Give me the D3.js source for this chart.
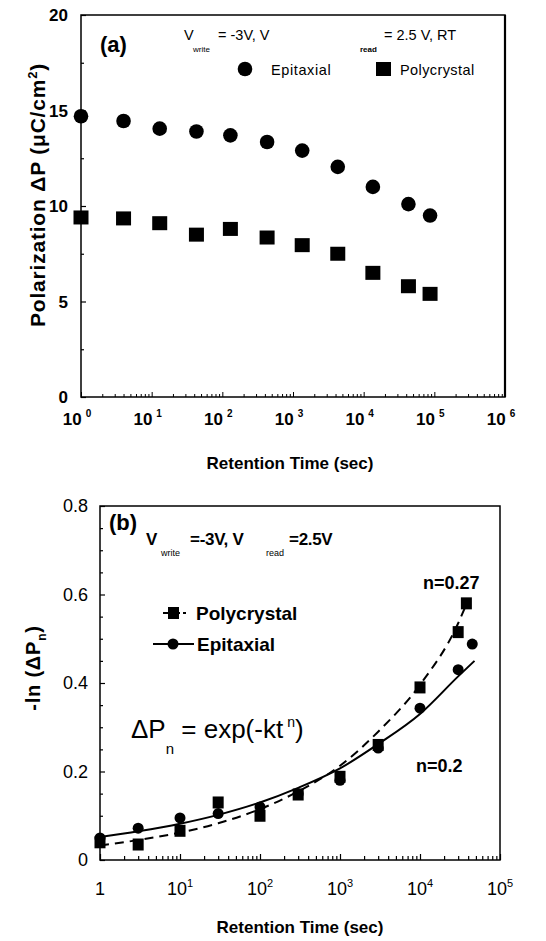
<!DOCTYPE html>
<html><head><meta charset="utf-8">
<script src="https://cdn.jsdelivr.net/npm/d3@7"></script>
<style>body{margin:0;background:#fff}text{font-family:Arial,"Liberation Sans",sans-serif;fill:#000}</style>
</head><body><svg id="c" width="546" height="941"></svg>
<script>
// ---------- Panel (a) data ----------
const timeA = [1, 4, 13, 43, 130, 430, 1350, 4300, 13500, 43000, 87000];
const epiA  = [14.7, 14.45, 14.05, 13.9, 13.7, 13.35, 12.9, 12.05, 11.0, 10.1, 9.5];
const polyA = [9.4, 9.35, 9.1, 8.5, 8.8, 8.35, 7.95, 7.5, 6.5, 5.8, 5.4];
const yTicksA = [0, 5, 10, 15, 20];
const xExpA = [0, 1, 2, 3, 4, 5, 6];

// ---------- Panel (b) data ----------
const polyTimeB = [1, 3, 10, 30, 100, 300, 1000, 3000, 10000, 30000, 38000];
const polyB     = [0.04, 0.035, 0.066, 0.13, 0.10, 0.148, 0.188, 0.26, 0.39, 0.515, 0.58];
const epiTimeB  = [1, 3, 10, 30, 100, 300, 1000, 3000, 10000, 30000, 45000];
const epiB      = [0.05, 0.072, 0.095, 0.105, 0.12, 0.15, 0.18, 0.253, 0.343, 0.43, 0.488];
// fit curves
const polyFitT = [1, 3, 10, 30, 100, 300, 1000, 3000, 10000, 30000, 38000];
const polyFitV = [0.033, 0.045, 0.062, 0.083, 0.115, 0.155, 0.213, 0.29, 0.396, 0.535, 0.578];
const epiFitT  = [1, 3, 10, 30, 100, 300, 1000, 3000, 10000, 30000, 48000];
const epiFitV  = [0.052, 0.065, 0.082, 0.102, 0.13, 0.163, 0.207, 0.262, 0.33, 0.415, 0.45];
const yTicksB = [0, 0.2, 0.4, 0.6, 0.8];
const yTickLabelsB = ["0", "0.2", "0.4", "0.6", "0.8"];
const xExpB = [0, 1, 2, 3, 4, 5];

const svg = d3.select("#c");

function minorLog(lo, hi) {
  const out = [];
  for (let e = lo; e < hi; e++) for (let m = 2; m <= 9; m++) out.push(m * Math.pow(10, e));
  return out;
}

// ================= Panel (a) =================
{
  const L = 81, R = 505, T = 15, B = 397;
  const x = d3.scaleLog().domain([1, 1e6]).range([L, R]);
  const y = d3.scaleLinear().domain([0, 20]).range([B, T]);
  const g = svg.append("g");

  g.append("rect").attr("x", L).attr("y", T).attr("width", R - L).attr("height", B - T)
    .attr("fill", "none").attr("stroke", "#000").attr("stroke-width", 1.5);
  g.append("line").attr("x1", R).attr("x2", R).attr("y1", T).attr("y2", B).attr("stroke", "#000").attr("stroke-width", 2.2);

  const yAx = d3.axisRight(y).tickValues(yTicksA).tickSize(5).tickFormat("");
  g.append("g").attr("transform", `translate(${L},0)`).call(yAx).call(s => s.select(".domain").remove());
  const yMin = d3.axisRight(y).tickValues([2.5, 7.5, 12.5, 17.5]).tickSize(3).tickFormat("");
  g.append("g").attr("transform", `translate(${L},0)`).call(yMin).call(s => s.select(".domain").remove());
  g.selectAll(".tick line").attr("stroke", "#000").attr("stroke-width", 1.2);
  g.selectAll(".ylabA").data(yTicksA).enter().append("text")
    .attr("x", 68).attr("y", d => y(d) + 6).attr("text-anchor", "end")
    .attr("font-size", 17).attr("font-weight", "bold").text(d => d);

  const xMaj = d3.axisTop(x).tickValues(xExpA.map(e => Math.pow(10, e))).tickSize(5).tickFormat("");
  const xMin = d3.axisTop(x).tickValues(minorLog(0, 6)).tickSize(3).tickFormat("");
  const gx1 = g.append("g").attr("transform", `translate(0,${B})`).call(xMaj);
  const gx2 = g.append("g").attr("transform", `translate(0,${B})`).call(xMin);
  [gx1, gx2].forEach(s => { s.select(".domain").remove(); s.selectAll("line").attr("stroke", "#000").attr("stroke-width", 1); });

  const xl = g.selectAll(".xlabA").data(xExpA).enter().append("text")
    .attr("x", d => x(Math.pow(10, d)) - 4).attr("y", 425).attr("text-anchor", "middle")
    .attr("font-size", 17).attr("font-weight", "bold");
  xl.append("tspan").text("10");
  xl.append("tspan").attr("dx", 4).attr("dy", -8).attr("font-size", 10).text(d => d);

  g.append("text").attr("x", 290).attr("y", 469).attr("text-anchor", "middle")
    .attr("font-size", 17).attr("font-weight", "bold").text("Retention Time (sec)");

  const yl = g.append("text").attr("transform", "translate(45,195) rotate(-90)")
    .attr("text-anchor", "middle").attr("font-size", 21).attr("font-weight", "bold").attr("letter-spacing", 0.8);
  yl.append("tspan").text("Polarization ΔP (μC/cm");
  yl.append("tspan").attr("dy", -8).attr("font-size", 13).text("2");
  yl.append("tspan").attr("dy", 8).text(")");

  g.selectAll(".epiA").data(timeA).enter().append("circle")
    .attr("cx", d => x(d)).attr("cy", (d, i) => y(epiA[i])).attr("r", 7.3).attr("fill", "#000");
  g.selectAll(".polyA").data(timeA).enter().append("rect")
    .attr("x", d => x(d) - 7.5).attr("y", (d, i) => y(polyA[i]) - 7).attr("width", 15).attr("height", 14).attr("fill", "#000");

  g.append("text").attr("x", 100).attr("y", 52).attr("font-size", 22).attr("font-weight", "bold").text("(a)");
  const fs = 14.5;
  g.append("text").attr("x", 184).attr("y", 40).attr("font-size", fs).text("V");
  g.append("text").attr("x", 193).attr("y", 52).attr("font-size", 8).text("write");
  g.append("text").attr("x", 218).attr("y", 40).attr("font-size", fs).text("= -3V, V");
  g.append("text").attr("x", 360).attr("y", 52).attr("font-size", 8).attr("font-weight", "bold").text("read");
  g.append("text").attr("x", 384).attr("y", 40).attr("font-size", fs).text("= 2.5 V, RT");
  g.append("circle").attr("cx", 245).attr("cy", 69).attr("r", 7.3).attr("fill", "#000");
  g.append("text").attr("x", 271).attr("y", 75).attr("font-size", fs).attr("letter-spacing", 0.6).text("Epitaxial");
  g.append("rect").attr("x", 376).attr("y", 62).attr("width", 15).attr("height", 14).attr("fill", "#000");
  g.append("text").attr("x", 400).attr("y", 75).attr("font-size", fs).attr("letter-spacing", 0.4).text("Polycrystal");
}

// ================= Panel (b) =================
{
  const L = 100, R = 500, T = 506, B = 860;
  const x = d3.scaleLog().domain([1, 1e5]).range([L, R]);
  const y = d3.scaleLinear().domain([0, 0.8]).range([B, T]);
  const g = svg.append("g");

  g.append("rect").attr("x", L).attr("y", T).attr("width", R - L).attr("height", B - T)
    .attr("fill", "none").attr("stroke", "#000").attr("stroke-width", 1.5);

  const yMaj = d3.axisRight(y).tickValues(yTicksB).tickSize(5).tickFormat("");
  const yMin = d3.axisRight(y).tickValues(d3.range(0.05, 0.8, 0.05).filter(v => Math.abs(v * 5 - Math.round(v * 5)) > 1e-6)).tickSize(3).tickFormat("");
  const xMaj = d3.axisTop(x).tickValues(xExpB.map(e => Math.pow(10, e))).tickSize(6).tickFormat("");
  const xMin = d3.axisTop(x).tickValues(minorLog(0, 5)).tickSize(4).tickFormat("");
  [[yMaj, `translate(${L},0)`], [yMin, `translate(${L},0)`], [xMaj, `translate(0,${B})`], [xMin, `translate(0,${B})`]].forEach(([ax, tr]) => {
    const s = g.append("g").attr("transform", tr).call(ax);
    s.select(".domain").remove();
    s.selectAll("line").attr("stroke", "#000").attr("stroke-width", 1.2);
  });

  g.selectAll(".ylabB").data(yTicksB).enter().append("text")
    .attr("x", 88).attr("y", (d) => y(d) + 6).attr("text-anchor", "end")
    .attr("font-size", 18).text((d, i) => yTickLabelsB[i]);

  const xl = g.selectAll(".xlabB").data(xExpB).enter().append("text")
    .attr("x", d => x(Math.pow(10, d))).attr("y", 895).attr("text-anchor", "middle")
    .attr("font-size", 18);
  xl.each(function (d) {
    const t = d3.select(this);
    if (d === 0) { t.text("1"); return; }
    t.append("tspan").text("10");
    t.append("tspan").attr("dy", -8).attr("font-size", 11).text(d);
  });

  g.append("text").attr("x", 300).attr("y", 933).attr("text-anchor", "middle")
    .attr("font-size", 17).attr("font-weight", "bold").text("Retention Time (sec)");

  const yl = g.append("text").attr("transform", "translate(40,668) rotate(-90)")
    .attr("text-anchor", "middle").attr("font-size", 20).attr("font-weight", "bold").attr("letter-spacing", 0.8);
  yl.append("tspan").text("-ln (ΔP");
  yl.append("tspan").attr("dy", 6).attr("font-size", 12).text("n");
  yl.append("tspan").attr("dy", -6).text(")");

  const line = d3.line().x(d => x(d[0])).y(d => y(d[1])).curve(d3.curveMonotoneX);
  g.append("path").attr("d", line(polyFitT.map((t, i) => [t, polyFitV[i]])))
    .attr("fill", "none").attr("stroke", "#000").attr("stroke-width", 2).attr("stroke-dasharray", "9,6");
  g.append("path").attr("d", line(epiFitT.map((t, i) => [t, epiFitV[i]])))
    .attr("fill", "none").attr("stroke", "#000").attr("stroke-width", 2);

  g.selectAll(".polyB").data(polyTimeB).enter().append("rect")
    .attr("x", d => x(d) - 5.5).attr("y", (d, i) => y(polyB[i]) - 6).attr("width", 11).attr("height", 12).attr("fill", "#000");
  g.selectAll(".epiB").data(epiTimeB).enter().append("circle")
    .attr("cx", d => x(d)).attr("cy", (d, i) => y(epiB[i])).attr("r", 5.5).attr("fill", "#000");

  g.append("text").attr("x", 109).attr("y", 530).attr("font-size", 22).attr("font-weight", "bold").text("(b)");
  g.append("text").attr("x", 146).attr("y", 545).attr("font-size", 17).attr("font-weight", "bold").text("V");
  g.append("text").attr("x", 161).attr("y", 556).attr("font-size", 9).text("write");
  g.append("text").attr("x", 190).attr("y", 545).attr("font-size", 17).attr("font-weight", "bold").attr("letter-spacing", -0.3).text("=-3V, V");
  g.append("text").attr("x", 266).attr("y", 556).attr("font-size", 9).text("read");
  g.append("text").attr("x", 289).attr("y", 545).attr("font-size", 17).attr("font-weight", "bold").attr("letter-spacing", -0.3).text("=2.5V");

  g.append("text").attr("x", 423).attr("y", 589).attr("font-size", 18).attr("font-weight", "bold").text("n=0.27");
  g.append("text").attr("x", 416).attr("y", 772).attr("font-size", 18).attr("font-weight", "bold").text("n=0.2");

  g.append("line").attr("x1", 163).attr("x2", 186).attr("y1", 613).attr("y2", 613).attr("stroke", "#000").attr("stroke-width", 2).attr("stroke-dasharray", "7,3");
  g.append("rect").attr("x", 168).attr("y", 607).attr("width", 11).attr("height", 12).attr("fill", "#000");
  g.append("text").attr("x", 196).attr("y", 620).attr("font-size", 19).attr("font-weight", "bold").text("Polycrystal");
  g.append("line").attr("x1", 153).attr("x2", 194).attr("y1", 644).attr("y2", 644).attr("stroke", "#000").attr("stroke-width", 2);
  g.append("circle").attr("cx", 173).attr("cy", 644).attr("r", 5.5).attr("fill", "#000");
  g.append("text").attr("x", 197).attr("y", 651).attr("font-size", 19).attr("font-weight", "bold").text("Epitaxial");

  const eq = g.append("text").attr("x", 131).attr("y", 738).attr("font-size", 26);
  eq.append("tspan").text("ΔP");
  eq.append("tspan").attr("dy", 16).attr("font-size", 15).text("n");
  eq.append("tspan").attr("dy", -16).text(" = exp(-kt");
  eq.append("tspan").attr("dx", 4).attr("dy", -11).attr("font-size", 14).text("n");
  eq.append("tspan").attr("dy", 11).text(")");
}
</script></body></html>
